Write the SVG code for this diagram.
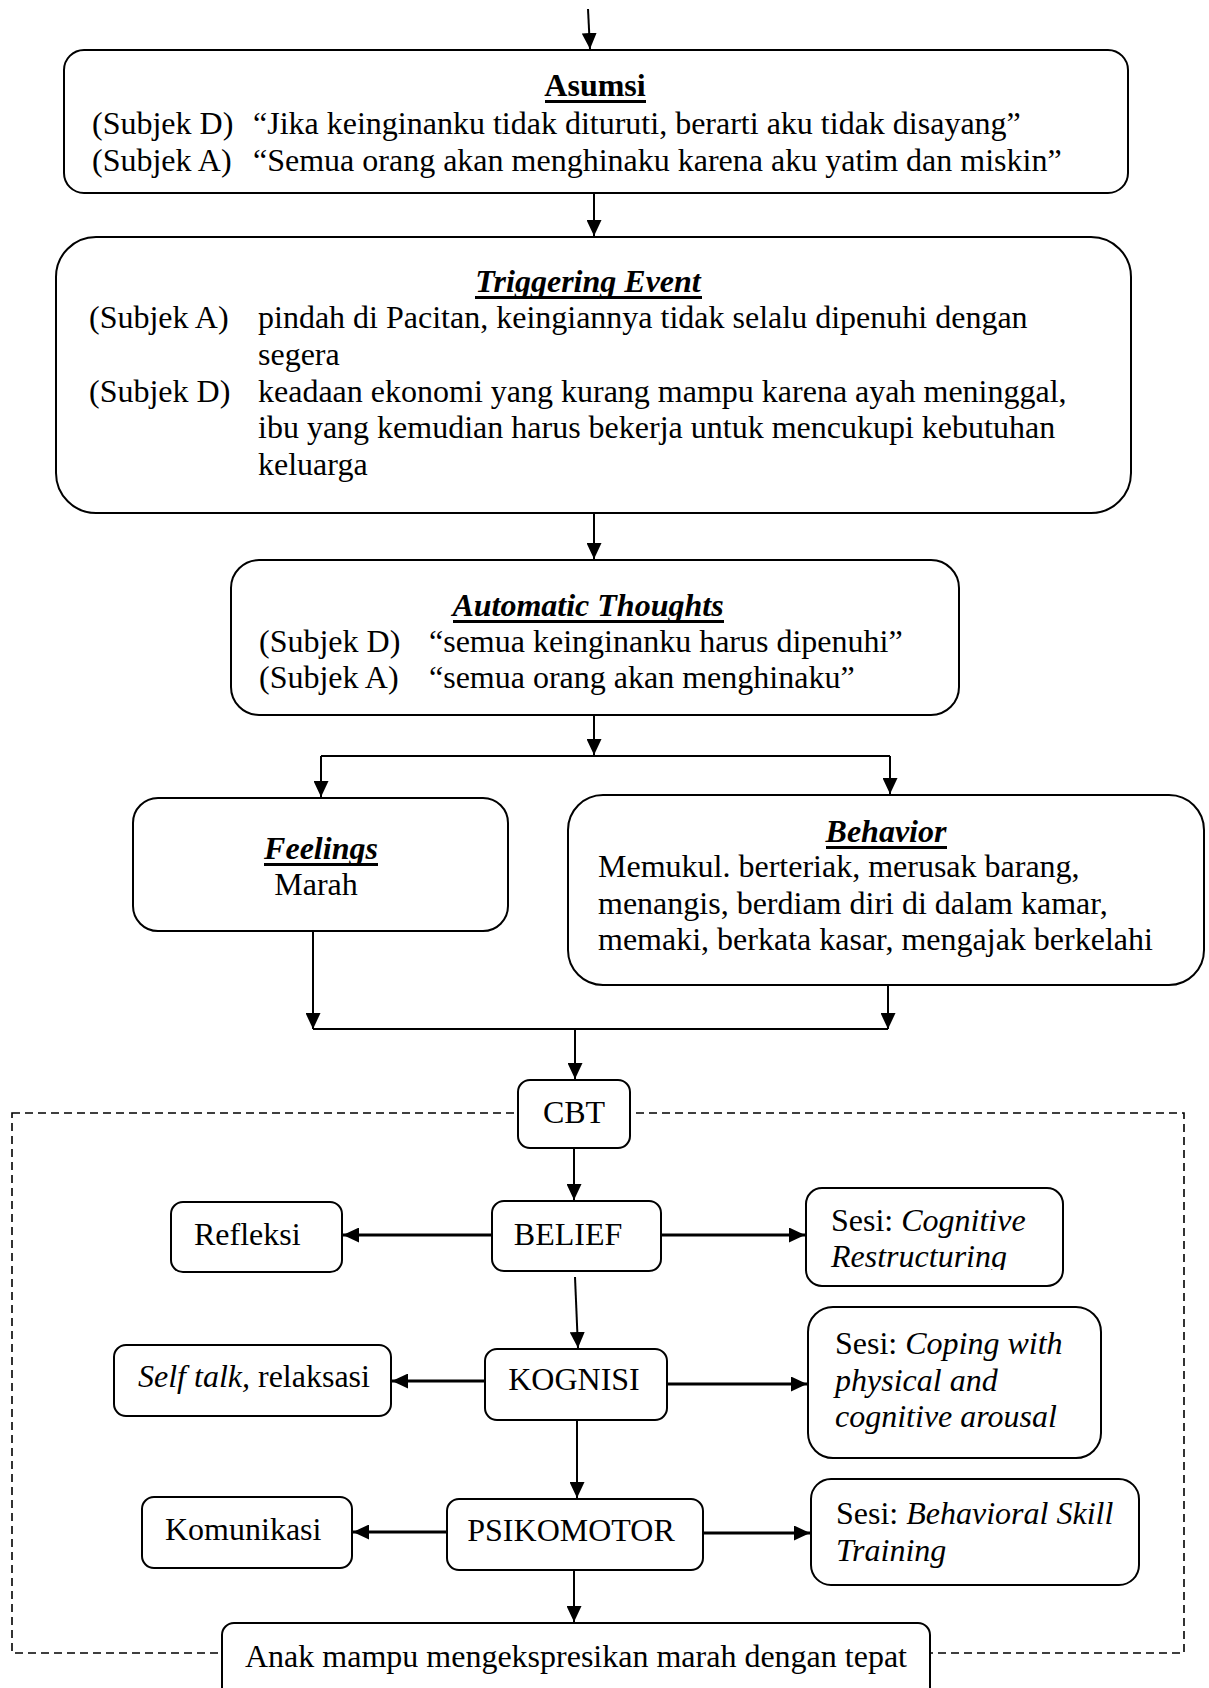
<svg xmlns="http://www.w3.org/2000/svg" width="1209" height="1688" viewBox="0 0 1209 1688">
<style>
text{font-family:"Liberation Serif","Times New Roman",serif;font-size:32px;fill:#000}
.b{font-weight:bold}
.bi{font-weight:bold;font-style:italic}
.i{font-style:italic}
.box{fill:#fff;stroke:#000;stroke-width:2}
.con{fill:none;stroke:#000;stroke-width:2}
.thk{stroke-width:3}
.dash{fill:none;stroke:#000;stroke-width:1.6;stroke-dasharray:8 5}
</style>
<defs>
<marker id="a" markerUnits="userSpaceOnUse" markerWidth="16" markerHeight="15" refX="16" refY="7.5" orient="auto">
<path d="M0,0 L16,7.5 L0,15 Z" fill="#000"/>
</marker>
<clipPath id="clipCog"><rect x="806" y="1188" width="257" height="82"/></clipPath>
</defs>
<rect class="dash" x="12" y="1113" width="1172" height="540"/>
<g id="connectors">
<path class="con" d="M588,9 L590,49" marker-end="url(#a)"/>
<path class="con" d="M594,191 L594,236" marker-end="url(#a)"/>
<path class="con" d="M594,512 L594,559" marker-end="url(#a)"/>
<path class="con" d="M594,715 L594,755" marker-end="url(#a)"/>
<path class="con" d="M321,756 L890,756"/>
<path class="con" d="M321,756 L321,797" marker-end="url(#a)"/>
<path class="con" d="M890,756 L890,794" marker-end="url(#a)"/>
<path class="con" d="M313,931 L313,1029" marker-end="url(#a)"/>
<path class="con" d="M888,985 L888,1029" marker-end="url(#a)"/>
<path class="con" d="M313,1029 L888,1029"/>
<path class="con" d="M575,1029 L575,1079" marker-end="url(#a)"/>
<path class="con" d="M574,1148 L574,1200" marker-end="url(#a)"/>
<path class="con thk" d="M492,1235 L343,1235" marker-end="url(#a)"/>
<path class="con thk" d="M662,1235 L805,1235" marker-end="url(#a)"/>
<path class="con" d="M575,1277 L578,1348" marker-end="url(#a)"/>
<path class="con thk" d="M485,1381 L392,1381" marker-end="url(#a)"/>
<path class="con thk" d="M667,1384 L807,1384" marker-end="url(#a)"/>
<path class="con" d="M577,1420 L577,1498" marker-end="url(#a)"/>
<path class="con thk" d="M446,1532 L353,1532" marker-end="url(#a)"/>
<path class="con thk" d="M704,1533 L810,1533" marker-end="url(#a)"/>
<path class="con" d="M574,1570 L574,1622" marker-end="url(#a)"/>
</g>
<g id="asumsi">
<rect class="box" x="64" y="50" width="1064" height="143" rx="20"/>
<text class="b" x="595" y="96" text-anchor="middle">Asumsi</text>
<rect x="545" y="100" width="101" height="3"/>
<text x="92" y="134">(Subjek D)</text>
<text x="253" y="134">“Jika keinginanku tidak dituruti, berarti aku tidak disayang”</text>
<text x="92" y="171">(Subjek A)</text>
<text x="253" y="171">“Semua orang akan menghinaku karena aku yatim dan miskin”</text>
</g>
<g id="triggering">
<rect class="box" x="56" y="237" width="1075" height="276" rx="40"/>
<text class="bi" x="588" y="292" text-anchor="middle">Triggering Event</text>
<rect x="475" y="296" width="227" height="3"/>
<text x="89" y="328">(Subjek A)</text>
<text x="258" y="328">pindah di Pacitan, keingiannya tidak selalu dipenuhi dengan</text>
<text x="258" y="365">segera</text>
<text x="89" y="402">(Subjek D)</text>
<text x="258" y="402">keadaan ekonomi yang kurang mampu karena ayah meninggal,</text>
<text x="258" y="438">ibu yang kemudian harus bekerja untuk mencukupi kebutuhan</text>
<text x="258" y="475">keluarga</text>
</g>
<g id="automatic">
<rect class="box" x="231" y="560" width="728" height="155" rx="28"/>
<text class="bi" x="588" y="616" text-anchor="middle">Automatic Thoughts</text>
<rect x="453" y="620" width="271" height="3"/>
<text x="259" y="652">(Subjek D)</text>
<text x="429" y="652">“semua keinginanku harus dipenuhi”</text>
<text x="259" y="688">(Subjek A)</text>
<text x="429" y="688">“semua orang akan menghinaku”</text>
</g>
<g id="feelings">
<rect class="box" x="133" y="798" width="375" height="133" rx="25"/>
<text class="bi" x="321" y="859" text-anchor="middle">Feelings</text>
<rect x="264" y="863" width="114" height="3"/>
<text x="316" y="895" text-anchor="middle">Marah</text>
</g>
<g id="behavior">
<rect class="box" x="568" y="795" width="636" height="190" rx="35"/>
<text class="bi" x="886" y="842" text-anchor="middle">Behavior</text>
<rect x="826" y="846" width="121" height="3"/>
<text x="598" y="877">Memukul. berteriak, merusak barang,</text>
<text x="598" y="914">menangis, berdiam diri di dalam kamar,</text>
<text x="598" y="950">memaki, berkata kasar, mengajak berkelahi</text>
</g>
<g id="cbt">
<rect class="box" x="518" y="1080" width="112" height="68" rx="12"/>
<text x="574" y="1123" text-anchor="middle">CBT</text>
</g>
<g id="belief">
<rect class="box" x="492" y="1201" width="169" height="70" rx="12"/>
<text x="568" y="1245" text-anchor="middle">BELIEF</text>
</g>
<g id="refleksi">
<rect class="box" x="171" y="1202" width="171" height="70" rx="12"/>
<text x="194" y="1245">Refleksi</text>
</g>
<g id="sesi-cognitive">
<rect class="box" x="806" y="1188" width="257" height="98" rx="16"/>
<g clip-path="url(#clipCog)">
<text x="831" y="1231">Sesi: <tspan class="i">Cognitive</tspan></text>
<text class="i" x="831" y="1267">Restructuring</text>
</g>
</g>
<g id="kognisi">
<rect class="box" x="485" y="1349" width="182" height="71" rx="12"/>
<text x="574" y="1390" text-anchor="middle">KOGNISI</text>
</g>
<g id="selftalk">
<rect class="box" x="114" y="1345" width="277" height="71" rx="12"/>
<text x="138" y="1387"><tspan class="i">Self talk,</tspan> relaksasi</text>
</g>
<g id="sesi-coping">
<rect class="box" x="808" y="1307" width="293" height="151" rx="25"/>
<text x="835" y="1354">Sesi: <tspan class="i">Coping with</tspan></text>
<text class="i" x="835" y="1391">physical and</text>
<text class="i" x="835" y="1427">cognitive arousal</text>
</g>
<g id="psikomotor">
<rect class="box" x="447" y="1499" width="256" height="71" rx="12"/>
<text x="571" y="1541" text-anchor="middle">PSIKOMOTOR</text>
</g>
<g id="komunikasi">
<rect class="box" x="142" y="1497" width="210" height="71" rx="12"/>
<text x="165" y="1540">Komunikasi</text>
</g>
<g id="sesi-behavioral">
<rect class="box" x="811" y="1479" width="328" height="106" rx="20"/>
<text x="836" y="1524">Sesi: <tspan class="i">Behavioral Skill</tspan></text>
<text class="i" x="836" y="1561">Training</text>
</g>
<g id="hasil">
<rect class="box" x="222" y="1623" width="708" height="90" rx="12"/>
<text x="245" y="1667">Anak mampu mengekspresikan marah dengan tepat</text>
</g>
</svg>
